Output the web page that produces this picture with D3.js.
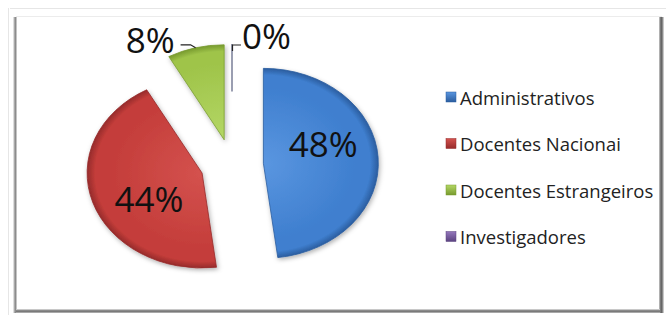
<!DOCTYPE html>
<html>
<head>
<meta charset="utf-8">
<script src="https://cdn.jsdelivr.net/npm/d3@7"></script>
<style>
  body { margin: 0; background: #fff; }
  svg { display: block; font-family: "Open Sans", "Noto Sans", sans-serif; }
</style>
</head>
<body>
<script>
// chart data
const categories = ["Administrativos", "Docentes Nacionai", "Docentes Estrangeiros", "Investigadores"];
const values = [48, 44, 8, 0];
const percentLabels = ["48%", "44%", "8%", "0%"];

const baseColors = ["#3f7fcf", "#c43d3a", "#9fc44a", "#7d5fa6"];
const lightColors = ["#5a96e0", "#d4524e", "#b4d765", "#9477bc"];
const darkColors = ["#2b5d9f", "#962b2b", "#779a2e", "#5b4380"];

const width = 666, height = 315;
const svg = d3.select("body").append("svg")
  .attr("width", width)
  .attr("height", height);

// frame
svg.append("line").attr("x1", 10).attr("y1", 8.5).attr("x2", 666).attr("y2", 8.5)
  .attr("stroke", "#e6e6e6");
svg.append("line").attr("x1", 8.5).attr("y1", 8).attr("x2", 8.5).attr("y2", 315)
  .attr("stroke", "#e6e6e6");

let frame = [
  // x, y, w, h, color
  [13, 17, 1, 296, "#dddddd"],
  [14, 17, 1, 296, "#aaaaaa"],
  [15, 17, 1, 296, "#8c8c8c"],
  [16, 17, 1, 296, "#c4c4c4"],
  [16, 16, 646, 1, "#ececec"],
  [659, 17, 1, 294, "#b0b0b0"],
  [660, 17, 1, 296, "#7a7a7a"],
  [661, 17, 1, 296, "#666666"],
  [662, 17, 1, 296, "#8a8a8a"],
  [663, 17, 1, 296, "#c8c8c8"],
  [16, 309, 644, 1, "#c8c8c8"],
  [16, 310, 644, 1, "#8a8a8a"],
  [16, 311, 644, 1, "#7a7a7a"],
  [16, 312, 644, 1, "#a8a8a8"]
];
svg.selectAll("rect.frame").data(frame).enter().append("rect")
  .classed("frame", true)
  .attr("x", d => d[0]).attr("y", d => d[1])
  .attr("width", d => d[2]).attr("height", d => d[3])
  .attr("fill", d => d[4]);

// pie (elliptical, exploded)
let cx = 232, cy = 165;
let ry = 95, sx = 1.21;
let explode = 26;

let pie = d3.pie().sort(null).value(d => d)(values);
let arc = d3.arc().innerRadius(0).outerRadius(ry);

let defs = svg.append("defs");
let shadow = defs.append("filter").attr("id", "shadow")
  .attr("x", "-20%").attr("y", "-20%").attr("width", "140%").attr("height", "140%");
shadow.append("feDropShadow").attr("dx", 1).attr("dy", 2)
  .attr("stdDeviation", 2).attr("flood-color", "#000").attr("flood-opacity", 0.3);

baseColors.forEach((c, i) => {
  let g = defs.append("radialGradient").attr("id", "grad" + i)
    .attr("gradientUnits", "userSpaceOnUse")
    .attr("cx", 0).attr("cy", 0).attr("r", ry);
  g.append("stop").attr("offset", "0%").attr("stop-color", lightColors[i]);
  g.append("stop").attr("offset", "80%").attr("stop-color", c);
  g.append("stop").attr("offset", "93%").attr("stop-color", c);
  g.append("stop").attr("offset", "100%").attr("stop-color", darkColors[i]);

  let lg = defs.append("linearGradient").attr("id", "leg" + i)
    .attr("x1", 0).attr("y1", 0).attr("x2", 0).attr("y2", 1);
  lg.append("stop").attr("offset", "0%").attr("stop-color", lightColors[i]);
  lg.append("stop").attr("offset", "100%").attr("stop-color", darkColors[i]);
});

let pieG = svg.append("g")
  .attr("transform", `translate(${cx},${cy}) scale(${sx},1)`);

let mid = d => (d.startAngle + d.endAngle) / 2;

let slices = pieG.selectAll("g.slice").data(pie).enter().append("g")
  .classed("slice", true)
  .attr("transform", d => `translate(${explode * Math.sin(mid(d))},${-explode * Math.cos(mid(d))})`);

slices.filter(d => d.value > 0).append("path")
  .attr("d", arc)
  .attr("fill", (d, i) => `url(#grad${d.index})`)
  .attr("stroke", d => darkColors[d.index])
  .attr("stroke-width", 0.8)
  .attr("vector-effect", "non-scaling-stroke")
  .attr("filter", "url(#shadow)");

// zero-size slice shows as a thin edge
slices.filter(d => d.value === 0).append("line")
  .attr("x1", 0).attr("y1", -ry)
  .attr("x2", 0).attr("y2", -ry * 0.5)
  .attr("stroke", "#6f7590")
  .attr("stroke-width", 1.4)
  .attr("vector-effect", "non-scaling-stroke");

// screen coordinates of a point on a slice
function toScreen(d, r, ang) {
  let ox = explode * Math.sin(mid(d)), oy = -explode * Math.cos(mid(d));
  return [cx + sx * (ox + r * Math.sin(ang)), cy + oy - r * Math.cos(ang)];
}

// labels inside for big slices ("best fit" sits a bit counter-clockwise)
let labelTurn = -15 * Math.PI / 180;
pie.filter(d => d.value >= 20).forEach(d => {
  let p = toScreen(d, ry * 0.55, mid(d) + labelTurn);
  svg.append("text")
    .attr("x", p[0]).attr("y", p[1] - 3)
    .attr("text-anchor", "middle")
    .attr("dominant-baseline", "central")
    .style("font-size", "35px")
    .attr("fill", "#111")
    .text(percentLabels[d.index]);
});

// labels outside with leader lines for small slices
pie.filter(d => d.value < 20).forEach(d => {
  let p = toScreen(d, ry, mid(d));
  let left = d.value > 0;
  let pts, tx, anchor;
  if (left) {
    pts = [p, [p[0] - 5, p[1] - 3], [p[0] - 15, p[1] - 3]];
    tx = p[0] - 21; anchor = "end";
  } else {
    pts = [[p[0] + 0.5, p[1] + 7], [p[0] + 0.5, p[1] + 1], [p[0] + 9, p[1] + 1]];
    tx = p[0] + 10; anchor = "start";
  }
  svg.append("path")
    .attr("d", d3.line()(pts))
    .attr("fill", "none")
    .attr("stroke", "#222")
    .attr("stroke-width", 1.2);
  svg.append("text")
    .attr("x", tx).attr("y", p[1] + 5)
    .attr("text-anchor", anchor)
    .style("font-size", "35px")
    .attr("fill", "#111")
    .text(percentLabels[d.index]);
});

// legend
let legend = svg.append("g").attr("transform", "translate(446,97)");
let legItem = legend.selectAll("g.item").data(categories).enter().append("g")
  .classed("item", true)
  .attr("transform", (d, i) => `translate(0,${i * 46.5})`);
legItem.append("rect")
  .attr("x", 0).attr("y", -5).attr("width", 10).attr("height", 10)
  .attr("fill", (d, i) => `url(#leg${i})`)
  .attr("stroke", (d, i) => darkColors[i])
  .attr("stroke-width", 0.5);
legItem.append("text")
  .attr("x", 14).attr("y", 0)
  .attr("dominant-baseline", "central")
  .style("font-size", "18.5px")
  .attr("fill", "#222")
  .text(d => d);
</script>
</body>
</html>
